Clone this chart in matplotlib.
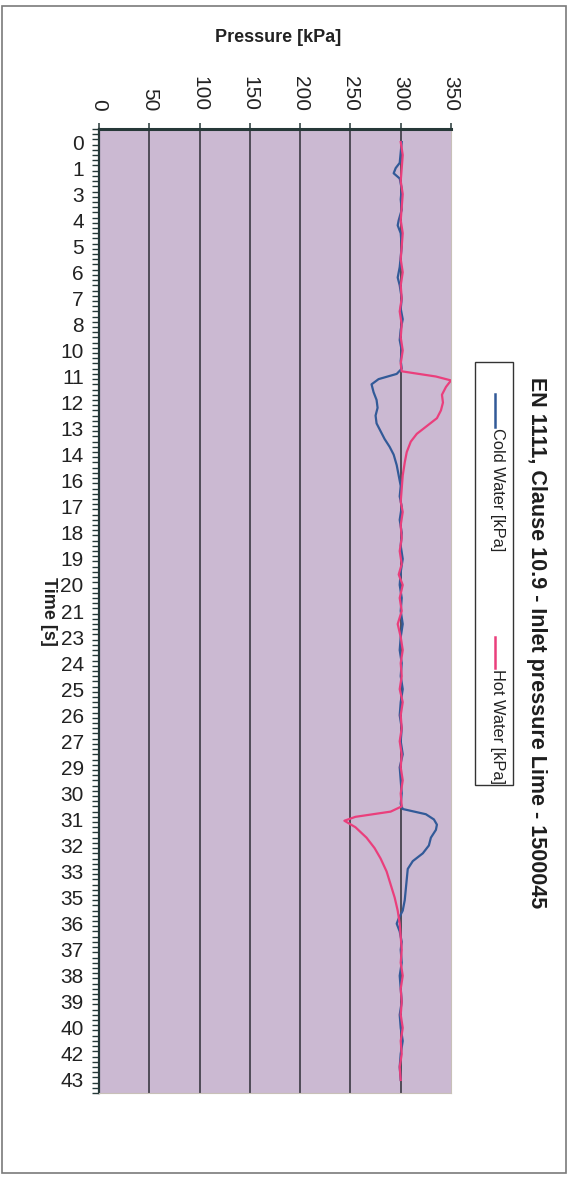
import matplotlib
matplotlib.use("Agg")
import matplotlib.pyplot as plt
import numpy as np
from matplotlib.lines import Line2D
from matplotlib.patches import Rectangle

plt.rcParams["font.family"] = ["Liberation Sans", "DejaVu Sans"]

# Time axis labels (one label per category slot, read top to bottom)
TIME_LABELS = ["0", "1", "3", "4", "5", "6", "7", "8", "10", "11", "12", "13",
               "14", "16", "17", "18", "19", "20", "21", "23", "24", "25", "26",
               "27", "29", "30", "31", "32", "33", "35", "36", "37", "38", "39",
               "40", "42", "43"]
PRESSURE_TICKS = [0, 50, 100, 150, 200, 250, 300, 350]

# Cold water: position on the time axis (label slot units) and pressure
COLD_POS = [0.0, 0.4, 0.8, 1.0, 1.2, 1.4, 1.8, 2.2, 2.6, 3.0, 3.2, 3.5, 4.0,
            4.4, 4.8, 5.2, 5.5, 6.0, 6.4, 6.8, 7.2, 7.6, 8.0, 8.4, 8.7, 8.9,
            9.1, 9.3, 9.6, 9.9, 10.2, 10.5, 10.8, 11.1, 11.4, 11.7, 12.0, 12.4,
            12.8, 13.2, 13.6, 14.0, 14.5, 15.0, 15.5, 16.0, 16.5, 17.0, 17.5,
            18.0, 18.5, 19.0, 19.5, 20.0, 20.5, 21.0, 21.5, 22.0, 22.5, 23.0,
            23.5, 24.0, 24.5, 25.0, 25.4, 25.6, 25.8, 26.0, 26.2, 26.4, 26.7,
            27.0, 27.3, 27.6, 27.9, 28.3, 28.7, 29.1, 29.5, 29.8, 30.0, 30.3,
            30.7, 31.0, 31.5, 32.0, 32.5, 33.0, 33.5, 34.0, 34.5, 35.0, 35.5,
            36.0]
COLD_KPA = [301, 300, 299, 295, 293, 299, 301, 300, 301, 298, 297, 300, 301,
            300, 299, 297, 299, 301, 300, 302, 300, 299, 301, 300, 301, 296,
            278, 271, 273, 276, 277, 275, 276, 280, 284, 289, 293, 296,
            298, 300, 299, 301, 299, 301, 300, 302, 300, 299, 301,
            300, 302, 300, 299, 301, 300, 302, 300, 299, 301, 300,
            302, 299, 300, 301, 300, 302, 325, 333, 336, 335, 330,
            328, 322, 312, 307, 306, 305, 304, 302, 298, 296, 299,
            301, 300, 301, 299, 300, 301, 299, 300, 302, 300, 299,
            300]

# Hot water: position on the time axis (label slot units) and pressure
HOT_POS = [0.0, 0.5, 1.0, 1.5, 2.0, 2.5, 3.0, 3.5, 4.0, 4.5, 5.0, 5.5, 6.0,
           6.5, 7.0, 7.5, 8.0, 8.5, 8.8, 9.0, 9.15, 9.4, 9.7, 10.0, 10.3,
           10.6, 10.9, 11.2, 11.5, 11.9, 12.3, 12.8, 13.3, 13.8, 14.2, 14.7,
           15.2, 15.7, 16.2, 16.6, 17.0, 17.5, 18.0, 18.5, 19.0, 19.5, 20.0,
           20.5, 21.0, 21.5, 22.0, 22.5, 23.0, 23.5, 24.0, 24.5, 25.0, 25.5,
           25.7, 25.9, 26.05, 26.3, 26.7, 27.1, 27.5, 28.0, 28.5, 29.0, 29.5,
           30.0, 30.5, 31.0, 31.5, 32.0, 32.5, 33.0, 33.5, 34.0, 34.5, 35.0,
           35.5, 36.0]
HOT_KPA = [300, 302, 301, 300, 302, 301, 300, 302, 301, 300, 302, 300, 301,
           299, 301, 300, 302, 300, 301, 335, 350, 345, 341, 342, 340,
           336, 326, 316, 310, 306, 304, 302, 301, 300, 302, 300,
           301, 299, 301, 298, 302, 299, 301, 297, 300, 302, 300,
           301, 299, 302, 300, 301, 299, 301, 300, 302, 300, 301,
           290, 255, 244, 255, 266, 274, 280, 286, 290, 294, 297,
           299, 300, 301, 300, 302, 300, 301, 300, 302, 300, 301,
           299, 300]

W, H = 569, 1178
fig = plt.figure(figsize=(W / 100, H / 100), dpi=100)
fig.patch.set_facecolor("white")


def fx(px):
    return px / W


def fy(py):
    return 1 - py / H


# outer page frame
fig.add_artist(Rectangle((fx(2), fy(1173)), fx(564), (1171 - 4) / H,
                         transform=fig.transFigure, fill=False,
                         edgecolor="#7a7a7a", linewidth=1.2))

left, right, top, bottom = 99, 451, 129, 1093
ax = fig.add_axes([fx(left), fy(bottom), fx(right - left), (bottom - top) / H])
ax.set_facecolor("#cbb9d2")

n = len(TIME_LABELS)
ax.set_xlim(0, 350)
ax.set_ylim(n - 0.5, -0.5)

for v in PRESSURE_TICKS[1:-1]:
    ax.axvline(v, color="#2e2e36", linewidth=1.1, zorder=1)

ax.plot(COLD_KPA, COLD_POS, color="#325a98", linewidth=1.6, zorder=3)
ax.plot(HOT_KPA, HOT_POS, color="#ea3f7c", linewidth=1.6, zorder=4)

for side in ("right", "bottom"):
    ax.spines[side].set_color("#c8c0b8")
    ax.spines[side].set_linewidth(0.8)
ax.spines["top"].set_color("#263838")
ax.spines["top"].set_linewidth(2.2)
ax.spines["left"].set_color("#263838")
ax.spines["left"].set_linewidth(1.6)

ax.xaxis.tick_top()
ax.set_xticks(PRESSURE_TICKS)
ax.set_xticklabels([str(v) for v in PRESSURE_TICKS])
ax.tick_params(axis="x", which="major", length=4, width=1.1, color="#263838",
               pad=9, labelsize=15, labelrotation=-90, labelcolor="#222222")

ax.set_yticks(range(n))
ax.set_yticklabels(TIME_LABELS)
ax.set_yticks(np.arange(-0.5, n - 0.5 + 0.01, 0.2), minor=True)
ax.tick_params(axis="y", which="major", length=0, pad=11, labelsize=15,
               labelcolor="#222222")
ax.tick_params(axis="y", which="minor", length=5, width=1.0, color="#263838")

# axis titles
fig.text(fx(278), fy(38), "Pressure [kPa]", fontsize=13, fontweight="bold",
         ha="center", va="center", color="#222222")
fig.text(fx(48), fy(611), "Time [s]", fontsize=13, fontweight="bold",
         rotation=-90, ha="center", va="center", color="#222222")

# chart title, running down the right side
fig.text(fx(537), fy(377), "EN 1111, Clause 10.9 - Inlet pressure Lime - 1500045",
         fontsize=15.5, fontweight="bold", rotation=-90, ha="center", va="top",
         color="#1e1e1e")

# legend box
fig.add_artist(Rectangle((fx(475), fy(785)), fx(38), (785 - 362) / H,
                         transform=fig.transFigure, fill=False,
                         edgecolor="#333333", linewidth=1.0))
for y0, y1, color, label in [(394, 427, "#325a98", "Cold Water [kPa]"),
                             (637, 668, "#ea3f7c", "Hot Water [kPa]")]:
    fig.add_artist(Line2D([fx(495), fx(495)], [fy(y0), fy(y1)],
                          transform=fig.transFigure, color=color, linewidth=1.8))
    fig.text(fx(497), fy(y1 + 1), label, fontsize=11.8, rotation=-90,
             ha="center", va="top", color="#222222")

fig.savefig("out.png", dpi=100)
